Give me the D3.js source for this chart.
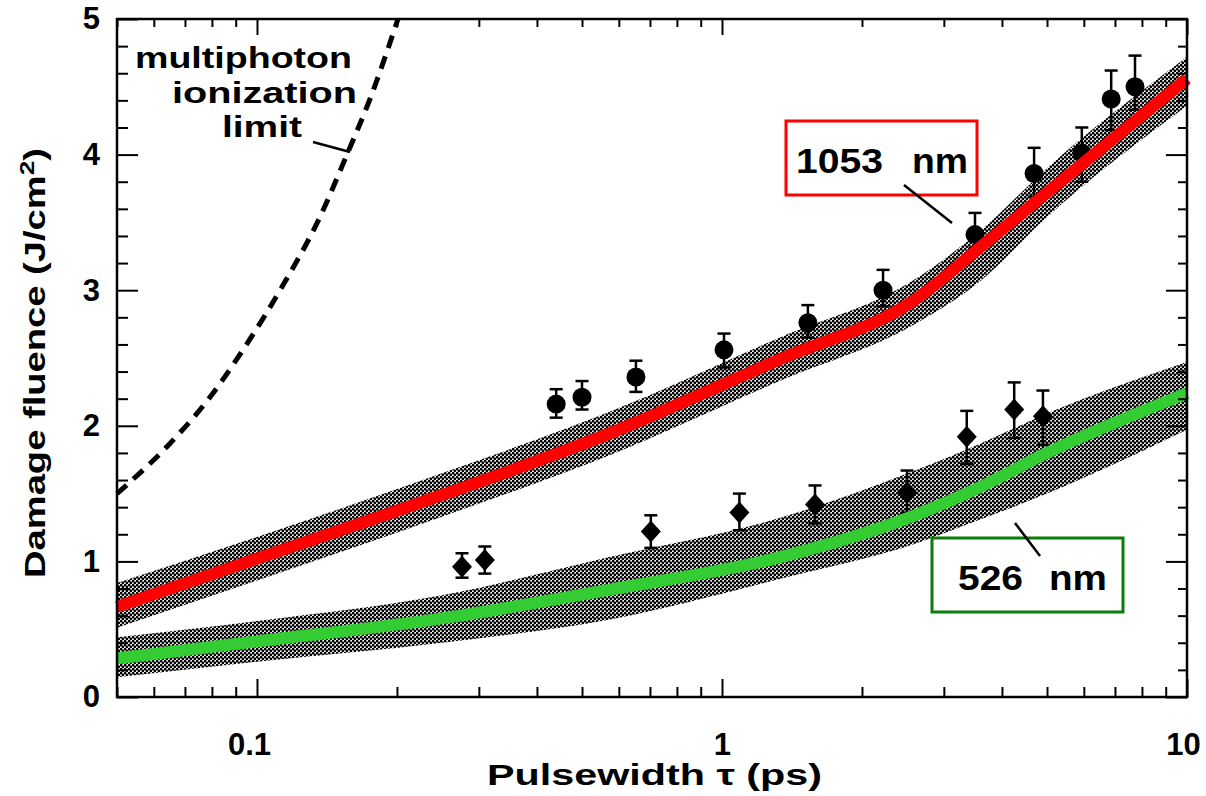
<!DOCTYPE html>
<html>
<head>
<meta charset="utf-8">
<script src="https://cdn.jsdelivr.net/npm/d3@7"></script>
<style>
  body { margin: 0; background: #fff; }
  text { font-family: "Liberation Sans", Arial, Helvetica, sans-serif; font-weight: bold; fill: #000; }
</style>
</head>
<body>
<div id="vis"></div>
<script>
var width = 1206
var height = 796

// model curves (shared pulse grid, ps)
var curvePulse   = [0.05, 0.1, 0.25, 0.57, 1.33, 2.6, 3.6, 5, 10]
var fit1053      = [0.665, 1.02, 1.49, 1.94, 2.49, 2.93, 3.32, 3.72, 4.56]
var band1053Hi   = [0.84, 1.18, 1.65, 2.10, 2.65, 3.08, 3.44, 3.90, 4.72]
var band1053Lo   = [0.51, 0.86, 1.33, 1.78, 2.33, 2.75, 3.07, 3.54, 4.36]
var fit526       = [0.285, 0.41, 0.58, 0.79, 1.03, 1.34, 1.55, 1.80, 2.24]
var band526Hi    = [0.44, 0.56, 0.75, 1.03, 1.32, 1.67, 1.87, 2.09, 2.47]
var band526Lo    = [0.145, 0.26, 0.40, 0.57, 0.87, 1.13, 1.31, 1.50, 1.97]

// multiphoton ionization limit (dashed)
var mpiPulse   = [0.05, 0.065, 0.0792, 0.0933, 0.113, 0.1366, 0.157, 0.175, 0.201]
var mpiFluence = [1.5, 1.87, 2.21, 2.56, 3.02, 3.54, 4.02, 4.41, 5.0]

// measured points, 1053 nm (circles)
var pulse1053 = [0.44, 0.50, 0.653, 1.01, 1.53, 2.22, 3.50, 4.69, 5.94, 6.87, 7.73]
var dmg1053   = [2.16, 2.21, 2.36, 2.56, 2.76, 3.00, 3.41, 3.86, 4.01, 4.41, 4.50]
var err1053Hi = [2.27, 2.33, 2.48, 2.68, 2.89, 3.15, 3.57, 4.05, 4.20, 4.62, 4.73]
var err1053Lo = [2.06, 2.12, 2.25, 2.43, 2.65, 2.88, 3.31, 3.69, 3.80, 4.18, 4.33]

// measured points, 526 nm (diamonds)
var pulse526 = [0.276, 0.309, 0.703, 1.09, 1.585, 2.50, 3.36, 4.25, 4.90]
var dmg526   = [0.96, 1.01, 1.22, 1.36, 1.42, 1.51, 1.92, 2.12, 2.07]
var err526Hi = [1.06, 1.11, 1.34, 1.50, 1.56, 1.67, 2.11, 2.32, 2.26]
var err526Lo = [0.88, 0.91, 1.10, 1.23, 1.28, 1.36, 1.72, 1.91, 1.86]

// ticks
var xMajor = [0.1, 1, 10]
var xMinor = [0.05, 0.06, 0.07, 0.08, 0.09, 0.2, 0.3, 0.4, 0.5, 0.6, 0.7, 0.8, 0.9, 2, 3, 4, 5, 6, 7, 8, 9]
var yMajor = [0, 1, 2, 3, 4, 5]
var yMinor = [0.2, 0.4, 0.6, 0.8, 1.2, 1.4, 1.6, 1.8, 2.2, 2.4, 2.6, 2.8, 3.2, 3.4, 3.6, 3.8, 4.2, 4.4, 4.6, 4.8]

var plotLeft = 117, plotRight = 1187, plotTop = 19, plotBottom = 697

var svg = d3.select('#vis').append('svg')
  .attr('width', width)
  .attr('height', height)

svg.append('rect').attr('width', width).attr('height', height).attr('fill', '#fff')

// halftone texture for the grey bands
var pat = svg.append('defs').append('pattern')
  .attr('id', 'stipple')
  .attr('width', 4).attr('height', 4)
  .attr('patternUnits', 'userSpaceOnUse')
pat.append('rect').attr('width', 4).attr('height', 4).attr('fill', '#fff')
pat.append('circle').attr('cx', 1).attr('cy', 1).attr('r', 1.45).attr('fill', '#000')
pat.append('circle').attr('cx', 3).attr('cy', 3).attr('r', 1.45).attr('fill', '#000')

var x = d3.scaleLog().domain([0.05, 10]).range([plotLeft, plotRight])
var y = d3.scaleLinear().domain([0, 5]).range([plotBottom, plotTop])

var zip = function(xs, ys) { return xs.map(function(v, i) { return [v, ys[i]] }) }
var zip3 = function(xs, lo, hi) { return xs.map(function(v, i) { return [v, lo[i], hi[i]] }) }

// bands
var band = d3.area()
  .x(function(d) { return x(d[0]) })
  .y0(function(d) { return y(d[1]) })
  .y1(function(d) { return y(d[2]) })
  .curve(d3.curveMonotoneX)

svg.append('path').attr('d', band(zip3(curvePulse, band1053Lo, band1053Hi))).attr('fill', 'url(#stipple)')
svg.append('path').attr('d', band(zip3(curvePulse, band526Lo, band526Hi))).attr('fill', 'url(#stipple)')

var line = d3.line()
  .x(function(d) { return x(d[0]) })
  .y(function(d) { return y(d[1]) })
  .curve(d3.curveMonotoneX)

// multiphoton limit
svg.append('path')
  .attr('d', line(zip(mpiPulse, mpiFluence)))
  .attr('fill', 'none')
  .attr('stroke', '#000')
  .attr('stroke-width', 5)
  .attr('stroke-dasharray', '13,9')

// error bars
function errorBars(px, lo, hi) {
  var g = svg.append('g').attr('stroke', '#000').attr('stroke-width', 2.5)
  px.forEach(function(p, i) {
    var cx = x(p)
    g.append('line').attr('x1', cx).attr('x2', cx).attr('y1', y(lo[i])).attr('y2', y(hi[i]))
    g.append('line').attr('x1', cx - 6.5).attr('x2', cx + 6.5).attr('y1', y(lo[i])).attr('y2', y(lo[i]))
    g.append('line').attr('x1', cx - 6.5).attr('x2', cx + 6.5).attr('y1', y(hi[i])).attr('y2', y(hi[i]))
  })
}
errorBars(pulse1053, err1053Lo, err1053Hi)
errorBars(pulse526, err526Lo, err526Hi)

svg.append('g').selectAll('circle')
  .data(zip(pulse1053, dmg1053))
  .enter().append('circle')
  .attr('cx', function(d) { return x(d[0]) })
  .attr('cy', function(d) { return y(d[1]) })
  .attr('r', 9.5)
  .attr('fill', '#000')

svg.append('g').selectAll('path')
  .data(zip(pulse526, dmg526))
  .enter().append('path')
  .attr('transform', function(d) { return 'translate(' + x(d[0]) + ',' + y(d[1]) + ')' })
  .attr('d', 'M0,-11L10,0L0,11L-10,0Z')
  .attr('fill', '#000')

// coloured fit lines on top
svg.append('path')
  .attr('d', line(zip(curvePulse, fit1053)))
  .attr('fill', 'none').attr('stroke', '#ff0000').attr('stroke-width', 12)
svg.append('path')
  .attr('d', line(zip(curvePulse, fit526)))
  .attr('fill', 'none').attr('stroke', '#33cc33').attr('stroke-width', 12)

// axes: ticks point inward
function noDomain(g) { g.select('.domain').remove() }
function blackTicks(g) { g.selectAll('line').attr('stroke', '#000').attr('stroke-width', 2) }
var fontSize = 31

svg.append('g').attr('transform', 'translate(0,' + plotBottom + ')')
  .call(d3.axisBottom(x).tickValues(xMajor).tickSize(-18).tickPadding(36).tickFormat(d3.format('~g')))
  .call(noDomain).call(blackTicks)
  .call(function(g) {
    g.selectAll('text').attr('font-size', fontSize).attr('font-family', null)
      .attr('dx', function(d) { return d === 0.1 ? -8 : (d === 10 ? -4 : 0) })
  })
svg.append('g').attr('transform', 'translate(0,' + plotBottom + ')')
  .call(d3.axisBottom(x).tickValues(xMinor).tickSize(-10).tickFormat(''))
  .call(noDomain).call(blackTicks)

svg.append('g').attr('transform', 'translate(0,' + plotTop + ')')
  .call(d3.axisTop(x).tickValues(xMajor).tickSize(-16).tickFormat(''))
  .call(noDomain).call(blackTicks)
svg.append('g').attr('transform', 'translate(0,' + plotTop + ')')
  .call(d3.axisTop(x).tickValues(xMinor).tickSize(-8).tickFormat(''))
  .call(noDomain).call(blackTicks)

svg.append('g').attr('transform', 'translate(' + plotLeft + ',0)')
  .call(d3.axisLeft(y).tickValues(yMajor).tickSize(-21).tickPadding(17).tickFormat(d3.format('d')))
  .call(noDomain).call(blackTicks)
  .call(function(g) { g.selectAll('text').attr('font-size', fontSize).attr('font-family', null) })
svg.append('g').attr('transform', 'translate(' + plotLeft + ',0)')
  .call(d3.axisLeft(y).tickValues(yMinor).tickSize(-11).tickFormat(''))
  .call(noDomain).call(blackTicks)

svg.append('g').attr('transform', 'translate(' + plotRight + ',0)')
  .call(d3.axisRight(y).tickValues(yMajor).tickSize(-21).tickFormat(''))
  .call(noDomain).call(blackTicks)
svg.append('g').attr('transform', 'translate(' + plotRight + ',0)')
  .call(d3.axisRight(y).tickValues(yMinor).tickSize(-9).tickFormat(''))
  .call(noDomain).call(blackTicks)

// frame
svg.append('rect')
  .attr('x', plotLeft).attr('y', plotTop)
  .attr('width', plotRight - plotLeft).attr('height', plotBottom - plotTop)
  .attr('fill', 'none').attr('stroke', '#000').attr('stroke-width', 2.5)

// axis titles
svg.append('text')
  .attr('x', 487).attr('y', 785)
  .attr('font-size', 29)
  .attr('textLength', 335).attr('lengthAdjust', 'spacingAndGlyphs')
  .text('Pulsewidth  τ  (ps)')

var yTitle = svg.append('text')
  .attr('transform', 'translate(45,578) rotate(-90)')
  .attr('font-size', 29)
  .attr('textLength', 430).attr('lengthAdjust', 'spacingAndGlyphs')
yTitle.append('tspan').text('Damage  fluence  (J/cm')
yTitle.append('tspan').attr('font-size', 20).attr('dy', -11).text('2')
yTitle.append('tspan').attr('dy', 11).text(')')

// annotations
function label(txt, x0, base, len, size) {
  svg.append('text')
    .attr('x', x0).attr('y', base)
    .attr('font-size', size)
    .attr('textLength', len).attr('lengthAdjust', 'spacingAndGlyphs')
    .text(txt)
}
label('multiphoton', 135, 68, 217, 29)
label('ionization', 172, 103, 185, 29)
label('limit', 222, 137, 80, 29)

svg.append('rect').attr('x', 786).attr('y', 121).attr('width', 191).attr('height', 74)
  .attr('fill', 'none').attr('stroke', '#ff0000').attr('stroke-width', 3)
label('1053', 796, 173, 87, 35)
label('nm', 912, 173, 56, 35)

svg.append('rect').attr('x', 932).attr('y', 538).attr('width', 191).attr('height', 74)
  .attr('fill', 'none').attr('stroke', '#0a7d0a').attr('stroke-width', 3)
label('526', 958, 590, 65, 35)
label('nm', 1049, 590, 58, 35)

var leaders = [[313, 142, 350, 152], [904, 185, 952, 223], [1015, 523, 1040, 556]]
svg.append('g').selectAll('line')
  .data(leaders)
  .enter().append('line')
  .attr('x1', function(d) { return d[0] }).attr('y1', function(d) { return d[1] })
  .attr('x2', function(d) { return d[2] }).attr('y2', function(d) { return d[3] })
  .attr('stroke', '#000').attr('stroke-width', 2.5)
</script>
</body>
</html>
